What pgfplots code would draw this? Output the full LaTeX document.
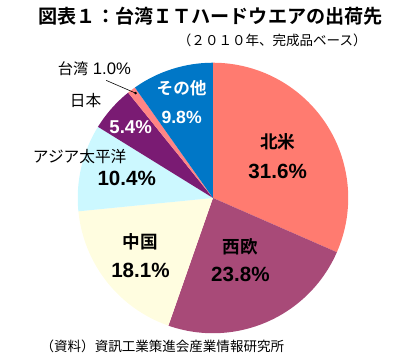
\documentclass[border=0pt]{standalone}
\usepackage{pgfplots}
\usepackage{pgfplotstable}
\pgfplotsset{compat=1.18}
\usepackage{fontspec}
\setmainfont{Liberation Sans}
\newfontfamily\jp{Noto Sans CJK JP}[BoldFont={Noto Sans CJK JP Bold}]
\definecolor{cNA}{HTML}{FF7B70}
\definecolor{cEU}{HTML}{A84A78}
\definecolor{cCN}{HTML}{FFFDE0}
\definecolor{cAP}{HTML}{CCF8FF}
\definecolor{cJP}{HTML}{7A1B73}
\definecolor{cTW}{HTML}{FF8585}
\definecolor{cOT}{HTML}{0077C7}
\pgfplotstableread{
val
31.6
23.8
18.1
10.4
5.4
1.0
9.8
}\piedata
\begin{document}
\def\cum{0}
\pgfmathsetmacro\tot{100.1}
\foreach \i in {0,...,6}{%
  \pgfplotstablegetelem{\i}{val}\of\piedata
  \pgfmathsetmacro\c{\cum+\pgfplotsretval}%
  \xdef\cum{\c}%
  \pgfmathsetmacro\ang{90-(\c/\tot)*360}%
  \expandafter\xdef\csname ang\i\endcsname{\ang}%
}
\begin{tikzpicture}
\begin{axis}[width=408bp,height=369bp,scale only axis,
  xmin=0,xmax=408,ymin=0,ymax=369,hide axis,clip=false]
\path (axis cs:0,0) rectangle (axis cs:408,369);
\def\cx{209}\def\cy{167}\def\R{138bp}
\fill[cNA] (axis cs:\cx,\cy) -- ++(90:\R) arc[start angle=90,end angle=\csname ang0\endcsname,radius=\R] -- cycle;
\fill[cEU] (axis cs:\cx,\cy) -- ++(\csname ang0\endcsname:\R) arc[start angle=\csname ang0\endcsname,end angle=\csname ang1\endcsname,radius=\R] -- cycle;
\fill[cCN] (axis cs:\cx,\cy) -- ++(\csname ang1\endcsname:\R) arc[start angle=\csname ang1\endcsname,end angle=\csname ang2\endcsname,radius=\R] -- cycle;
\fill[cAP] (axis cs:\cx,\cy) -- ++(\csname ang2\endcsname:\R) arc[start angle=\csname ang2\endcsname,end angle=\csname ang3\endcsname,radius=\R] -- cycle;
\fill[cJP] (axis cs:\cx,\cy) -- ++(\csname ang3\endcsname:\R) arc[start angle=\csname ang3\endcsname,end angle=\csname ang4\endcsname,radius=\R] -- cycle;
\fill[cTW] (axis cs:\cx,\cy) -- ++(\csname ang4\endcsname:\R) arc[start angle=\csname ang4\endcsname,end angle=\csname ang5\endcsname,radius=\R] -- cycle;
\fill[cOT] (axis cs:\cx,\cy) -- ++(\csname ang5\endcsname:\R) arc[start angle=\csname ang5\endcsname,end angle=\csname ang6\endcsname,radius=\R] -- cycle;
% title
\node[anchor=west,inner sep=0,font=\jp\bfseries\fontsize{19.5bp}{22bp}\selectfont] at (axis cs:31,352) {図表１：台湾ＩＴハードウエアの出荷先};
\node[anchor=east,inner sep=0,font=\jp\fontsize{13.8bp}{16bp}\selectfont] at (axis cs:366,328) {（２０１０年、完成品ベース）};
\node[anchor=west,inner sep=0,font=\jp\fontsize{13.8bp}{16bp}\selectfont] at (axis cs:33,16) {（資料）資訊工業策進会産業情報研究所};
% labels
\node[font=\jp\bfseries\fontsize{18bp}{20bp}\selectfont] at (axis cs:275,224) {北米};
\node[font=\bfseries\fontsize{21bp}{22bp}\selectfont] at (axis cs:275,194) {31.6\%};
\node[font=\jp\bfseries\fontsize{18bp}{20bp}\selectfont] at (axis cs:237,117) {西欧};
\node[font=\bfseries\fontsize{21bp}{22bp}\selectfont] at (axis cs:237,89) {23.8\%};
\node[font=\jp\bfseries\fontsize{18bp}{20bp}\selectfont] at (axis cs:135,122) {中国};
\node[font=\bfseries\fontsize{21bp}{22bp}\selectfont] at (axis cs:135,93) {18.1\%};
\node[font=\jp\fontsize{16bp}{18bp}\selectfont] at (axis cs:73,209) {アジア太平洋};
\node[font=\bfseries\fontsize{21bp}{22bp}\selectfont] at (axis cs:121,187) {10.4\%};
\node[font=\jp\fontsize{16bp}{18bp}\selectfont] at (axis cs:79,266) {日本};
\node[white,font=\bfseries\fontsize{19bp}{22bp}\selectfont] at (axis cs:125,239) {5.4\%};
\node[white,font=\jp\bfseries\fontsize{17bp}{20bp}\selectfont] at (axis cs:177,279) {その他};
\node[white,font=\bfseries\fontsize{18bp}{22bp}\selectfont] at (axis cs:177,249) {9.8\%};
\node[font=\fontsize{17bp}{18bp}\selectfont] at (axis cs:88,299) {{\jp\fontsize{15.5bp}{18bp}\selectfont 台湾} 1.0\%};
\draw[black,line width=0.6bp] (axis cs:100,287) -- (axis cs:130,274);
\fill[black] (axis cs:130,274) circle[radius=1.4bp];
\end{axis}
\end{tikzpicture}
\end{document}
